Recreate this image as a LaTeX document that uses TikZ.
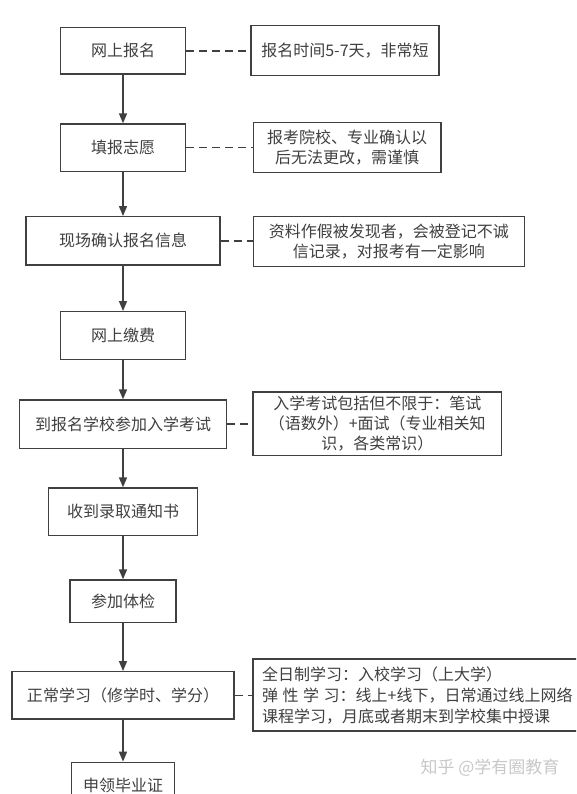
\documentclass[tikz,border=0pt]{standalone}
\usepackage{fontspec}
\setmainfont{Noto Sans CJK SC}
\usetikzlibrary{arrows.meta}
\definecolor{linec}{HTML}{404040}
\definecolor{textc}{HTML}{404040}
\definecolor{wmc}{HTML}{C8C8C8}
\tikzset{
  stepbox/.style={draw=linec, line width=1.3pt, fill=white, text=textc, inner sep=0pt,
    font=\fontsize{16}{20}\selectfont, align=center},
  notetext/.style={text=textc, inner sep=0pt, font=\fontsize{16}{21}\selectfont, align=left},
  flow/.style={draw=linec, line width=1.4pt, -{Triangle[length=10pt,width=8pt]}},
  link/.style={draw=linec, line width=1.5pt, dash pattern=on 8pt off 5pt},
  wmark/.style={text=wmc, inner sep=0pt, font=\fontsize{17}{20}\selectfont}
}
\begin{document}
\begin{tikzpicture}[x=1pt,y=-1pt]
\path[use as bounding box] (0,0) rectangle (576,794);
\clip (0,0) rectangle (576,794);
\fill[white] (0,0) rectangle (576,794);

% main steps
\node[stepbox, minimum width=125pt, minimum height=46.3pt] (b1) at (123,50.85) {网上报名};
\node[stepbox, minimum width=125pt, minimum height=47.3pt] (b2) at (123,147.65) {填报志愿};
\node[stepbox, minimum width=194pt, minimum height=48.3pt] (b3) at (123,240.85) {现场确认报名信息};
\node[stepbox, minimum width=125.6pt, minimum height=47.6pt] (b4) at (123,335.5) {网上缴费};
\node[stepbox, minimum width=206.5pt, minimum height=48.3pt] (b5) at (123,424.15) {到报名学校参加入学考试};
\node[stepbox, minimum width=148.7pt, minimum height=47.7pt] (b6) at (123,511.85) {收到录取通知书};
\node[stepbox, minimum width=105.8pt, minimum height=42.3pt] (b7) at (123,601.15) {参加体检};
\node[stepbox, minimum width=222.2pt, minimum height=47.3pt] (b8) at (123,695.35) {正常学习（修学时、学分）};
\node[stepbox, minimum width=103.2pt, minimum height=47pt] (b9) at (123,785.8) {申领毕业证};

% notes
\node[stepbox, minimum width=188.1pt, minimum height=50pt] (n1) at (345,50.7) {报名时间5-7天，非常短};
\node[stepbox, minimum width=187.7pt, minimum height=50pt] (n2) at (347,147.7) {报考院校、专业确认以\\后无法更改，需谨慎};
\node[stepbox, minimum width=271.5pt, minimum height=49.6pt] (n3) at (388.9,241.5) {资料作假被发现者，会被登记不诚\\信记录，对报考有一定影响};
\node[stepbox, minimum width=248.4pt, minimum height=63.3pt] (n5) at (377.3,423.65) {入学考试包括但不限于：笔试\\（语数外）+面试（专业相关知\\识，各类常识）};
\node[stepbox, minimum width=367pt, minimum height=72pt] (n8) at (436.6,695) {};
\node[notetext, anchor=west] (n8t) at (262,695.5) {全日制学习：入校学习（上大学）\\弹\hspace{4.5pt}性\hspace{4.5pt}学\hspace{4.5pt}习：线上+线下，日常通过线上网络\\课程学习，月底或者期末到学校集中授课};

% flow arrows
\draw[flow] (b1) -- (b2);
\draw[flow] (b2) -- (b3);
\draw[flow] (b3) -- (b4);
\draw[flow] (b4) -- (b5);
\draw[flow] (b5) -- (b6);
\draw[flow] (b6) -- (b7);
\draw[flow] (b7) -- (b8);
\draw[flow] (b8) -- (b9);

% dashed links
\draw[link] (b1.east) -- (b1.east -| n1.west);
\draw[link] (b2.east) -- (b2.east -| n2.west);
\draw[link] (b3.east) -- (b3.east -| n3.west);
\draw[link] (b5.east) -- (b5.east -| n5.west);
\draw[link] (b8.east) -- (b8.east -| n8.west);

% watermark
\node[wmark] (wm) at (490,768) {知乎 @学有圈教育};
\end{tikzpicture}
\end{document}
